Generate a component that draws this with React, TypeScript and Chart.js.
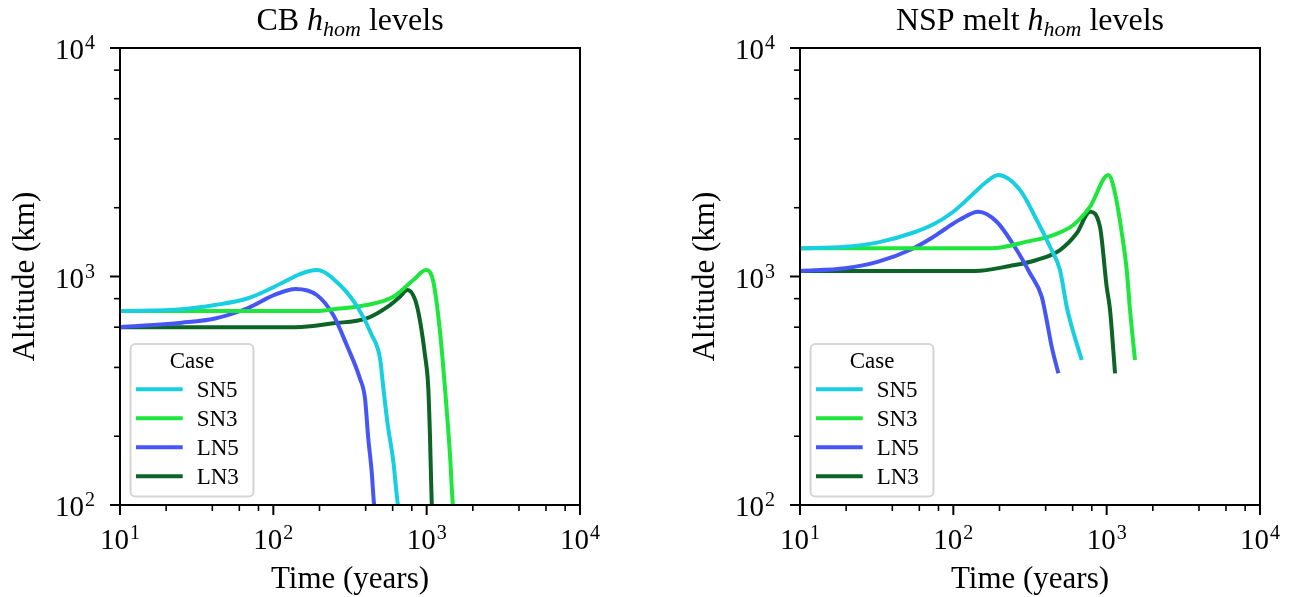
import React, { useEffect, useRef } from "react";
import { Chart, registerables } from "chart.js";

Chart.register(...registerables);

// ---------- data ----------
const CASES = ["SN5", "SN3", "LN5", "LN3"];

// CB panel
const cbTimeSN5 = [10, 25.3, 41.6, 68.4, 113, 149, 192, 272, 358, 438, 496, 522, 554, 606, 647, 660];
const cbAltSN5 = [706, 719, 750, 803, 934, 1025, 1068, 918, 726, 555, 439, 324, 231, 155, 102, 95];
const cbTimeSN3 = [10, 190, 246, 406, 606, 818, 990, 1105, 1222, 1317, 1420, 1479, 1500];
const cbAltSN3 = [706, 706, 719, 750, 816, 965, 1068, 949, 573, 324, 165, 102, 95];
const cbTimeLN5 = [10, 25.3, 41.6, 68.4, 102.5, 140, 192, 246, 301, 367, 396, 416, 438, 453, 460];
const cbAltLN5 = [600, 628, 655, 728, 833, 882, 830, 678, 501, 358, 293, 196, 140, 102, 95];
const cbTimeLN3 = [10, 140, 246, 406, 577, 670, 748, 861, 975, 1025, 1052, 1079, 1090];
const cbAltLN3 = [600, 600, 624, 656, 750, 816, 873, 750, 453, 324, 196, 102, 95];

// NSP melt panel
const nspTimeSN5 = [10, 19.7, 32.4, 53.8, 74.8, 99.5, 132.3, 160.9, 196.5, 272, 350, 427, 496, 549, 592, 688];
const nspAltSN5 = [1329, 1350, 1410, 1550, 1698, 1916, 2273, 2566, 2781, 2391, 1767, 1350, 1068, 737, 603, 431];
const nspTimeSN3 = [10, 178, 301, 449, 606, 779, 1025, 1134, 1284, 1351, 1420, 1530];
const nspAltSN3 = [1329, 1329, 1421, 1519, 1680, 2021, 2781, 2312, 1398, 1068, 714, 431];
const nspTimeLN5 = [10, 19.7, 32.4, 53.8, 70.4, 88.3, 110.5, 145.5, 191.8, 259, 316, 377, 406, 438, 484];
const nspAltLN5 = [1057, 1086, 1161, 1320, 1459, 1614, 1776, 1921, 1737, 1306, 1033, 816, 645, 493, 377];
const nspTimeLN3 = [10, 138.5, 234, 350, 496, 638, 779, 904, 1000, 1052, 1134];
const nspAltLN3 = [1057, 1057, 1112, 1181, 1306, 1546, 1921, 1652, 902, 714, 377];

// axes
const X_MIN = 10;
const X_MAX = 10000;
const Y_MIN = 100;
const Y_MAX = 10000;
const X_MAJOR = [10, 100, 1000, 10000];
const Y_MAJOR = [100, 1000, 10000];
const MINOR_SUBS = [2, 4, 6, 8];
const X_LABEL = "Time (years)";
const Y_LABEL = "Altitude (km)";
const LEGEND_TITLE = "Case";

// ---------- styles ----------
const COLORS = ["#17cfe0", "#1ee63c", "#4656f5", "#0c6426"];
const FONT = "'Liberation Serif', 'Times New Roman', serif";

type Part = { text: string; italic?: boolean; sub?: boolean };

function pts(t: number[], h: number[]) {
  return t.map((v, i) => ({ x: v, y: h[i] }));
}

function minorTicks(min: number, max: number) {
  const out: number[] = [];
  for (let d = min; d < max; d *= 10) {
    for (const s of MINOR_SUBS) out.push(d * s);
  }
  return out;
}

function drawPow(ctx: CanvasRenderingContext2D, exp: number, x: number, y: number, align: "center" | "right") {
  ctx.font = `29px ${FONT}`;
  const w1 = ctx.measureText("10").width;
  ctx.font = `20px ${FONT}`;
  const w2 = ctx.measureText(String(exp)).width;
  const gap = 1;
  const total = w1 + gap + w2;
  const x0 = align === "center" ? x - total / 2 : x - total;
  ctx.textAlign = "left";
  ctx.textBaseline = "alphabetic";
  ctx.font = `29px ${FONT}`;
  ctx.fillText("10", x0, y);
  ctx.font = `20px ${FONT}`;
  ctx.fillText(String(exp), x0 + w1 + gap, y - 10);
}

function makeDecor(titleParts: Part[]) {
  return {
    id: "decor",
    afterDraw(chart: any) {
      const ctx: CanvasRenderingContext2D = chart.ctx;
      const { left, right, top, bottom } = chart.chartArea;
      const xs = chart.scales.x;
      const ys = chart.scales.y;
      ctx.save();
      ctx.fillStyle = "#000";
      ctx.strokeStyle = "#000";

      // legend
      const bx = left + 10.5;
      const by = 344;
      const bw = 123;
      const bh = 152.5;
      ctx.beginPath();
      (ctx as any).roundRect(bx, by, bw, bh, 5);
      ctx.fillStyle = "rgba(255,255,255,0.8)";
      ctx.fill();
      ctx.lineWidth = 2;
      ctx.strokeStyle = "#d4d4d4";
      ctx.stroke();
      ctx.fillStyle = "#000";
      ctx.font = `23px ${FONT}`;
      ctx.textAlign = "center";
      ctx.textBaseline = "alphabetic";
      ctx.fillText(LEGEND_TITLE, bx + bw / 2, 368);
      chart.data.datasets.forEach((ds: any, i: number) => {
        const ly = 389.3 + i * 29;
        ctx.beginPath();
        ctx.moveTo(left + 16, ly);
        ctx.lineTo(left + 62.7, ly);
        ctx.strokeStyle = ds.borderColor;
        ctx.lineWidth = 4;
        ctx.lineCap = "butt";
        ctx.stroke();
        ctx.fillStyle = "#000";
        ctx.textAlign = "left";
        ctx.font = `23px ${FONT}`;
        ctx.fillText(ds.label, left + 76.7, ly + 7.5);
      });

      // frame
      ctx.strokeStyle = "#000";
      ctx.lineWidth = 2;
      ctx.lineCap = "butt";
      ctx.strokeRect(left, top, right - left, bottom - top);

      // ticks
      const tick = (x1: number, y1: number, x2: number, y2: number, w: number) => {
        ctx.beginPath();
        ctx.moveTo(x1, y1);
        ctx.lineTo(x2, y2);
        ctx.lineWidth = w;
        ctx.stroke();
      };
      for (const v of X_MAJOR) {
        const px = xs.getPixelForValue(v);
        tick(px, bottom, px, bottom + 10, 2);
        drawPow(ctx, Math.round(Math.log10(v)), px, bottom + 44, "center");
      }
      for (const v of minorTicks(X_MIN, X_MAX)) {
        const px = xs.getPixelForValue(v);
        tick(px, bottom, px, bottom + 6, 1.6);
      }
      for (const v of Y_MAJOR) {
        const py = ys.getPixelForValue(v);
        tick(left, py, left - 10, py, 2);
        drawPow(ctx, Math.round(Math.log10(v)), left - 25, py + 11, "right");
      }
      for (const v of minorTicks(Y_MIN, Y_MAX)) {
        const py = ys.getPixelForValue(v);
        tick(left, py, left - 6, py, 1.6);
      }

      // axis labels
      ctx.fillStyle = "#000";
      ctx.font = `31px ${FONT}`;
      ctx.textAlign = "center";
      ctx.textBaseline = "alphabetic";
      ctx.fillText(X_LABEL, (left + right) / 2, 588);
      ctx.save();
      ctx.translate(left - 86, (top + bottom) / 2);
      ctx.rotate(-Math.PI / 2);
      ctx.fillText(Y_LABEL, 0, 0);
      ctx.restore();

      // title
      const size = 32;
      const fontFor = (p: Part) =>
        `${p.italic ? "italic " : ""}${p.sub ? Math.round(size * 0.7) : size}px ${FONT}`;
      let total = 0;
      const widths = titleParts.map((p) => {
        ctx.font = fontFor(p);
        const w = ctx.measureText(p.text).width;
        total += w;
        return w;
      });
      let tx = (left + right) / 2 - total / 2;
      ctx.textAlign = "left";
      titleParts.forEach((p, i) => {
        ctx.font = fontFor(p);
        ctx.fillText(p.text, tx, p.sub ? 30 + 6 : 30);
        tx += widths[i];
      });
      ctx.restore();
    },
  };
}

function buildDatasets(series: { x: number[]; y: number[] }[]) {
  return series.map((s, i) => ({
    label: CASES[i],
    data: pts(s.x, s.y),
    borderColor: COLORS[i],
    backgroundColor: COLORS[i],
    borderWidth: 4,
    pointRadius: 0,
    fill: false,
    cubicInterpolationMode: "monotone" as const,
    borderJoinStyle: "round" as const,
    clip: 0,
  }));
}

function Panel(props: {
  left: number;
  width: number;
  padLeft: number;
  padRight: number;
  title: Part[];
  series: { x: number[]; y: number[] }[];
}) {
  const ref = useRef<HTMLCanvasElement | null>(null);
  useEffect(() => {
    if (!ref.current) return;
    const chart = new Chart(ref.current, {
      type: "line",
      data: { datasets: buildDatasets(props.series) as any },
      options: {
        animation: false,
        responsive: false,
        devicePixelRatio: 1,
        parsing: false as any,
        layout: { padding: { left: props.padLeft, right: props.padRight, top: 48, bottom: 92 } },
        plugins: { legend: { display: false }, title: { display: false }, tooltip: { enabled: false } },
        scales: {
          x: { type: "logarithmic", min: X_MIN, max: X_MAX, display: false },
          y: { type: "logarithmic", min: Y_MIN, max: Y_MAX, display: false },
        },
      },
      plugins: [makeDecor(props.title)],
    });
    return () => chart.destroy();
  }, []);
  return (
    <canvas
      ref={ref}
      width={props.width}
      height={597}
      style={{ position: "absolute", left: props.left, top: 0, width: props.width, height: 597 }}
    />
  );
}

export default function App() {
  return (
    <div style={{ position: "fixed", left: 0, top: 0, width: 1293, height: 597, background: "#fff" }}>
      <Panel
        left={0}
        width={646}
        padLeft={120}
        padRight={66}
        title={[{ text: "CB " }, { text: "h", italic: true }, { text: "hom", italic: true, sub: true }, { text: " levels" }]}
        series={[
          { x: cbTimeSN5, y: cbAltSN5 },
          { x: cbTimeSN3, y: cbAltSN3 },
          { x: cbTimeLN5, y: cbAltLN5 },
          { x: cbTimeLN3, y: cbAltLN3 },
        ]}
      />
      <Panel
        left={646}
        width={647}
        padLeft={154}
        padRight={33}
        title={[{ text: "NSP melt " }, { text: "h", italic: true }, { text: "hom", italic: true, sub: true }, { text: " levels" }]}
        series={[
          { x: nspTimeSN5, y: nspAltSN5 },
          { x: nspTimeSN3, y: nspAltSN3 },
          { x: nspTimeLN5, y: nspAltLN5 },
          { x: nspTimeLN3, y: nspAltLN3 },
        ]}
      />
    </div>
  );
}
